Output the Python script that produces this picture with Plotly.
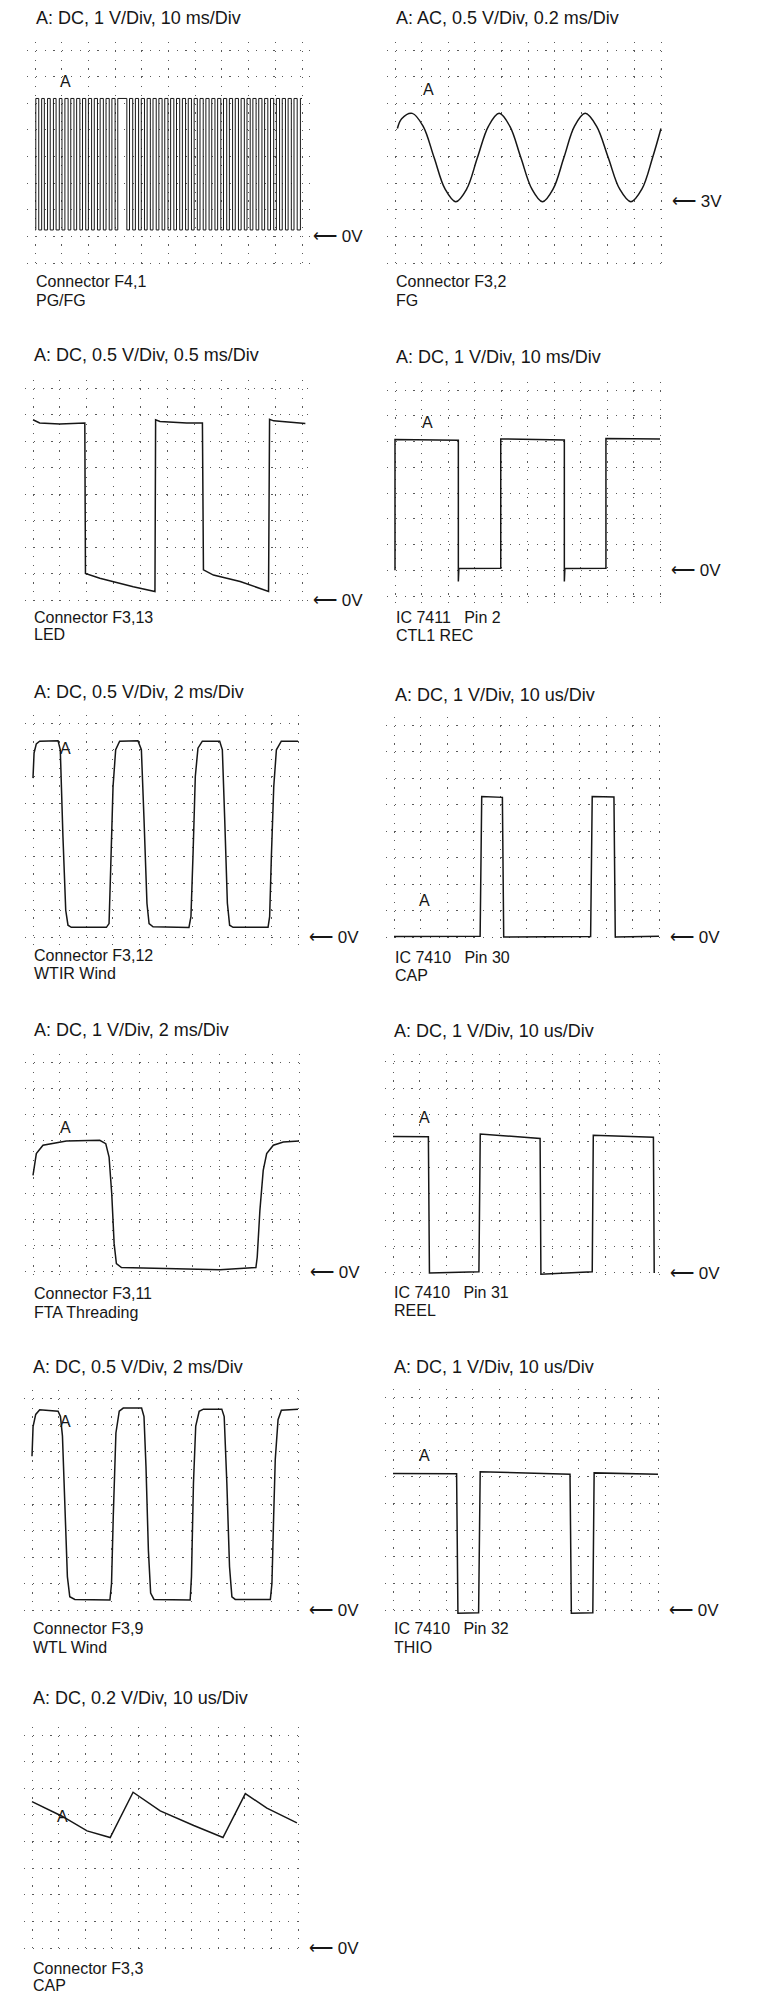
import plotly.graph_objects as go

W, H = 773, 1998
OFF = 8  # the page body margin pushes the figure 8 px right and down

# ---- waveform data (time, volts) ----

# Connector F4,1  PG/FG: edge times of the dense pulse train, ms
pgfg_edges_ms = [0.3, 1.4, 2.5, 3.5, 4.7, 5.7, 6.9, 7.9, 9.1, 10.1, 11.2, 12.4, 13.4, 14.6,
                 15.6, 16.8, 17.8, 19.0, 20.0, 21.2, 22.2, 23.4, 24.4, 25.6, 26.6, 27.8,
                 28.8, 30.0, 31.0,
                 34.4, 35.4, 36.6, 37.6, 38.8, 39.8, 41.0, 42.0, 43.2, 44.2, 45.4, 46.4,
                 47.6, 48.6, 49.8, 50.8, 52.0, 53.0, 54.2, 55.2, 56.4, 57.4, 58.6, 59.6,
                 60.8, 61.8, 63.0, 64.0,
                 65.2, 66.2, 67.4, 68.4, 69.6, 70.6, 71.8, 72.8, 74.0, 75.0, 76.2, 77.2,
                 78.4, 79.4, 80.6, 81.6, 82.8, 83.8, 85.0, 86.0, 87.2, 88.2, 89.4, 90.4,
                 91.6, 92.6, 93.8, 94.8, 96.0, 97.0, 98.2, 99.4]
pgfg_levels_v = [0.24, 5.18]

# Connector F3,2  FG (AC)
fg_t_ms = [0.018, 0.050, 0.130, 0.211, 0.294, 0.376, 0.457, 0.539, 0.620, 0.703, 0.783,
           0.863, 0.946, 1.029, 1.109, 1.189, 1.270, 1.350, 1.430, 1.515, 1.603, 1.689,
           1.774, 1.857, 1.937, 2.0]
fg_v = [4.375, 4.56, 4.66, 4.42, 3.83, 3.24, 3.00, 3.24, 3.83, 4.42, 4.66, 4.42, 3.83,
        3.24, 3.00, 3.24, 3.83, 4.42, 4.66, 4.42, 3.83, 3.24, 3.00, 3.24, 3.83, 4.375]

# Connector F3,13  LED
led_t_ms = [0, 0.124, 0.497, 0.963, 0.975, 1.242, 1.863, 2.267, 2.279, 2.360, 2.857,
            3.149, 3.168, 3.354, 3.850, 4.378, 4.397, 4.472, 5.062]
led_v = [3.40, 3.34, 3.32, 3.34, 0.50, 0.41, 0.25, 0.16, 3.40, 3.37, 3.34,
         3.34, 0.57, 0.47, 0.35, 0.16, 3.41, 3.38, 3.33]

# IC 7411 Pin 2  CTL1 REC
ctl_t_ms = [0, 0, 23.9, 23.9, 24.1, 39.9, 39.9, 63.9, 63.9, 64.1, 79.6, 79.6, 100]
ctl_v = [0.0, 5.08, 5.05, -0.44, 0.07, 0.08, 5.10, 5.06, -0.44, 0.07, 0.08, 5.12, 5.10]

# Connector F3,12  WTIR Wind
wtir_t_ms = [0, 0.08, 0.25, 0.50, 1.89, 2.06, 2.26, 2.47, 2.64, 2.89, 5.54, 5.74, 5.86,
             6.04, 6.24, 6.54, 7.92, 8.18, 8.38, 8.60, 8.76, 9.06, 11.77, 11.92, 12.08,
             12.25, 12.45, 12.78, 14.09, 14.29, 14.47, 14.67, 14.84, 15.10, 17.74, 17.86,
             17.99, 18.17, 18.37, 18.74, 20.0]
wtir_v = [2.97, 3.44, 3.61, 3.66, 3.67, 3.50, 1.88, 0.50, 0.22, 0.18, 0.18, 0.25, 1.25,
          2.81, 3.50, 3.66, 3.67, 3.50, 2.19, 0.63, 0.25, 0.19, 0.18, 0.38, 1.56,
          3.00, 3.53, 3.66, 3.66, 3.50, 2.19, 0.63, 0.22, 0.18, 0.18, 0.38,
          1.50, 2.81, 3.50, 3.66, 3.66]

# IC 7410 Pin 30  CAP
cap30_t_us = [0, 32.5, 33.1, 40.9, 41.4, 74.2, 74.8, 83.0, 83.5, 100]
cap30_v = [0.02, 0.03, 5.30, 5.27, 0.0, 0.02, 5.30, 5.28, 0.0, 0.03]

# Connector F3,11  FTA Threading
fta_t_ms = [0, 0.25, 0.75, 2.51, 5.02, 5.47, 5.72, 5.92, 6.10, 6.27, 6.65, 10.04, 14.05,
            16.76, 16.86, 17.06, 17.31, 17.57, 18.07, 18.82, 20.0]
fta_v = [3.68, 4.51, 4.83, 4.99, 5.02, 4.89, 4.38, 2.98, 1.08, 0.32, 0.17, 0.13, 0.09,
         0.17, 0.57, 2.35, 3.87, 4.51, 4.83, 4.95, 4.99]

# IC 7410 Pin 31  REEL
reel_t_us = [0, 13.3, 13.7, 32.3, 32.8, 55.3, 55.6, 74.9, 75.3, 97.9, 98.2]
reel_v = [5.18, 5.17, 0.0, 0.05, 5.27, 5.10, -0.05, 0.05, 5.22, 5.15, 0.0]

# Connector F3,9  WTL Wind
wtl_t_ms = [0, 0.08, 0.28, 0.58, 1.96, 2.14, 2.29, 2.46, 2.66, 2.84, 3.22, 5.86, 5.98,
            6.11, 6.31, 6.56, 6.86, 8.24, 8.42, 8.57, 8.75, 8.92, 9.17, 11.89, 11.99,
            12.14, 12.31, 12.57, 12.89, 14.27, 14.45, 14.65, 14.85, 15.03, 15.28, 17.92,
            18.04, 18.17, 18.29, 18.50, 18.75, 20.0]
wtl_v = [2.90, 3.46, 3.69, 3.78, 3.75, 3.65, 3.28, 2.08, 0.63, 0.25, 0.20, 0.19, 0.50,
         1.76, 3.34, 3.75, 3.81, 3.81, 3.65, 2.71, 1.13, 0.32, 0.20, 0.19, 0.63,
         2.39, 3.47, 3.75, 3.79, 3.79, 3.65, 2.39, 0.82, 0.25, 0.20, 0.20,
         0.50, 1.76, 2.84, 3.59, 3.77, 3.79]

# IC 7410 Pin 32  THIO
thio_t_us = [0, 24.0, 24.5, 32.3, 32.9, 66.8, 67.3, 75.4, 75.9, 100]
thio_v = [5.13, 5.12, -0.12, -0.10, 5.19, 5.10, -0.12, -0.10, 5.15, 5.10]

# Connector F3,3  CAP
cap3_t_us = [0, 11.3, 20.7, 29.4, 38.0, 48.2, 60.8, 71.8, 80.2, 88.3, 99.6]
cap3_v = [1.10, 0.99, 0.88, 0.83, 1.17, 1.03, 0.92, 0.83, 1.16, 1.05, 0.94]


def pulse_train(edges, levels, t_end):
    xs, ys, state = [0], [levels[0]], 0
    for e in edges:
        xs += [e, e]
        ys += [levels[state], levels[1 - state]]
        state = 1 - state
    xs.append(t_end)
    ys.append(levels[state])
    return xs, ys


pg_x, pg_y = pulse_train(pgfg_edges_ms, pgfg_levels_v, 100)

# screen settings and page positions (grid box in page px: left, top, right, bottom)
panels = [
    dict(title="A: DC, 1 V/Div, 10 ms/Div", lines=["Connector F4,1", "PG/FG"],
         vdiv=1, tdiv=10, ref_v=0, ref_div=1, ref="⟵ 0V", x=pg_x, y=pg_y, w=1.0,
         box=(35, 50, 302, 263), ty=18, ly=(282, 300), a=(66, 82)),
    dict(title="A: AC, 0.5 V/Div, 0.2 ms/Div", lines=["Connector F3,2", "FG"],
         vdiv=0.5, tdiv=0.2, ref_v=3, ref_div=2.3, ref="⟵ 3V", x=fg_t_ms, y=fg_v,
         spline=True, box=(395, 50, 661, 263), ty=18, ly=(282, 300), a=(428, 90)),
    dict(title="A: DC, 0.5 V/Div, 0.5 ms/Div", lines=["Connector F3,13", "LED"],
         vdiv=0.5, tdiv=0.5, ref_v=0, ref_div=0, ref="⟵ 0V", x=led_t_ms, y=led_v,
         box=(33, 388, 302, 600), ty=355, ly=(617, 634), a=None),
    dict(title="A: DC, 1 V/Div, 10 ms/Div", lines=["IC 7411\u00a0\u00a0\u00a0Pin 2", "CTL1 REC"],
         vdiv=1, tdiv=10, ref_v=0, ref_div=1, ref="⟵ 0V", x=ctl_t_ms, y=ctl_v,
         box=(395, 390, 660, 596), ty=357, ly=(617, 635), a=(427, 423)),
    dict(title="A: DC, 0.5 V/Div, 2 ms/Div", lines=["Connector F3,12", "WTIR Wind"],
         vdiv=0.5, tdiv=2, ref_v=0, ref_div=0, ref="⟵ 0V", x=wtir_t_ms, y=wtir_v,
         box=(33, 723, 298, 937), ty=692, ly=(955, 973), a=(66, 748)),
    dict(title="A: DC, 1 V/Div, 10 us/Div", lines=["IC 7410\u00a0\u00a0\u00a0Pin 30", "CAP"],
         vdiv=1, tdiv=10, ref_v=0, ref_div=0, ref="⟵ 0V", x=cap30_t_us, y=cap30_v,
         box=(394, 725, 659, 937), ty=695, ly=(957, 975), a=(425, 900)),
    dict(title="A: DC, 1 V/Div, 2 ms/Div", lines=["Connector F3,11", "FTA Threading"],
         vdiv=1, tdiv=2, ref_v=0, ref_div=0, ref="⟵ 0V", x=fta_t_ms, y=fta_v,
         box=(33, 1062, 299, 1272), ty=1030, ly=(1293, 1312), a=(65, 1127)),
    dict(title="A: DC, 1 V/Div, 10 us/Div", lines=["IC 7410\u00a0\u00a0\u00a0Pin 31", "REEL"],
         vdiv=1, tdiv=10, ref_v=0, ref_div=0, ref="⟵ 0V", x=reel_t_us, y=reel_v,
         box=(393, 1062, 659, 1273), ty=1031, ly=(1292, 1310), a=(425, 1117)),
    dict(title="A: DC, 0.5 V/Div, 2 ms/Div", lines=["Connector F3,9", "WTL Wind"],
         vdiv=0.5, tdiv=2, ref_v=0, ref_div=0, ref="⟵ 0V", x=wtl_t_ms, y=wtl_v,
         box=(32, 1398, 298, 1610), ty=1367, ly=(1628, 1647), a=(65, 1421)),
    dict(title="A: DC, 1 V/Div, 10 us/Div", lines=["IC 7410\u00a0\u00a0\u00a0Pin 32", "THIO"],
         vdiv=1, tdiv=10, ref_v=0, ref_div=0, ref="⟵ 0V", x=thio_t_us, y=thio_v,
         box=(393, 1397, 658, 1610), ty=1367, ly=(1628, 1647), a=(425, 1455)),
    dict(title="A: DC, 0.2 V/Div, 10 us/Div", lines=["Connector F3,3", "CAP"],
         vdiv=0.2, tdiv=10, ref_v=0, ref_div=0, ref="⟵ 0V", x=cap3_t_us, y=cap3_v,
         box=(32, 1735, 298, 1948), ty=1698, ly=(1968, 1985), a=(63, 1816)),
]

FONT = "Liberation Sans, Arial, Helvetica, sans-serif"
INK = "#161616"
PAD = 0.3  # extra divisions around the graticule so edge lines are not clipped
FW, FH = W - OFF, H - OFF


def px(x):
    return (x - OFF) / FW


def py(y):
    return 1 - (y - OFF) / FH


fig = go.Figure()
layout = {}
annotations = []


def note(text, x, y, size, anchor="left"):
    annotations.append(dict(
        text=text, x=px(x), y=py(y), xref="paper", yref="paper",
        xanchor=anchor, yanchor="middle", showarrow=False,
        font=dict(family=FONT, size=size, color=INK)))


for i, p in enumerate(panels):
    n = "" if i == 0 else str(i + 1)
    x0, y0, x1, y1 = p["box"]
    padx = PAD * (x1 - x0) / 10
    pady = PAD * (y1 - y0) / 8
    ybot = p["ref_v"] - p["ref_div"] * p["vdiv"]
    grid = dict(showgrid=True, gridcolor="#5a5a5a", gridwidth=1.2, griddash="1.2px,7.6px",
                zeroline=False, showticklabels=False, ticks="", showline=False,
                fixedrange=True)
    layout["xaxis" + n] = dict(
        domain=[px(x0 - padx), px(x1 + padx)],
        range=[-PAD * p["tdiv"], (10 + PAD) * p["tdiv"]],
        tick0=0, dtick=p["tdiv"], anchor="y" + n, **grid)
    layout["yaxis" + n] = dict(
        domain=[py(y1 + pady), py(y0 - pady)],
        range=[ybot - PAD * p["vdiv"], ybot + (8 + PAD) * p["vdiv"]],
        tick0=ybot, dtick=p["vdiv"], anchor="x" + n, **grid)

    fig.add_trace(go.Scatter(
        x=p["x"], y=p["y"], mode="lines", xaxis="x" + n, yaxis="y" + n,
        line=dict(color=INK, width=p.get("w", 1.5),
                  shape="spline" if p.get("spline") else "linear"),
        hoverinfo="skip", showlegend=False))

    note(p["title"], x0 - 1, p["ty"], 18)
    note(p["lines"][0], x0 - 1, p["ly"][0], 16)
    note(p["lines"][1], x0 - 1, p["ly"][1], 16)
    ref_y = y1 - p["ref_div"] * (y1 - y0) / 8
    note(p["ref"], x1 + 9, ref_y, 17)
    if p["a"]:
        note("A", p["a"][0], p["a"][1], 16, anchor="center")

layout.update(
    width=FW, height=FH,
    margin=dict(l=0, r=0, t=0, b=0),
    paper_bgcolor="white", plot_bgcolor="white",
    annotations=annotations,
)
fig.update_layout(**layout)

fig.write_html("out.html")
